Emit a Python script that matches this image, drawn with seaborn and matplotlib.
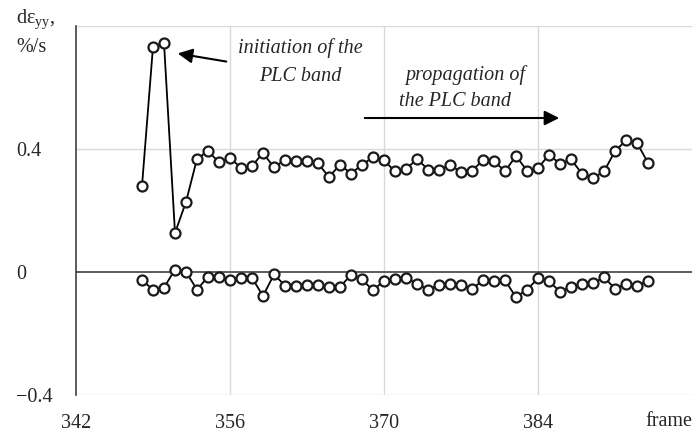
import numpy as np
import pandas as pd
import matplotlib
matplotlib.use("Agg")
import matplotlib.pyplot as plt
import seaborn as sns

frames = list(range(348, 395))
upper = [0.28, 0.733, 0.745, 0.127, 0.228, 0.368, 0.393, 0.357, 0.371, 0.339,
         0.345, 0.387, 0.34, 0.365, 0.362, 0.362, 0.353, 0.309, 0.349, 0.32,
         0.349, 0.373, 0.363, 0.327, 0.334, 0.368, 0.333, 0.333, 0.348, 0.325,
         0.328, 0.365, 0.36, 0.328, 0.377, 0.33, 0.338, 0.381, 0.352, 0.366,
         0.32, 0.305, 0.327, 0.393, 0.428, 0.42, 0.355]
lower = [-0.027, -0.057, -0.051, 0.008, 0.0, -0.057, -0.016, -0.016, -0.027, -0.021,
         -0.019, -0.078, -0.008, -0.044, -0.044, -0.043, -0.043, -0.048, -0.048, -0.01,
         -0.024, -0.06, -0.028, -0.024, -0.019, -0.038, -0.057, -0.043, -0.04, -0.043,
         -0.055, -0.027, -0.03, -0.027, -0.082, -0.057, -0.021, -0.03, -0.064, -0.048,
         -0.038, -0.037, -0.017, -0.054, -0.038, -0.044, -0.028]
xticks = [342, 356, 370, 384]
yticks = [-0.4, 0, 0.4]
ytick_labels = ["\u22120.4", "0", "0.4"]

sns.set_style("white")
plt.rcParams['font.family'] = ['Liberation Serif', 'DejaVu Serif']
plt.rcParams['mathtext.fontset'] = 'custom'
plt.rcParams['mathtext.rm'] = 'Liberation Serif'
plt.rcParams['mathtext.it'] = 'Liberation Serif:italic'

fig = plt.figure(figsize=(6.98, 4.36), dpi=100)
ax = fig.add_axes([76/698, 1-395/436, (692-76)/698, (395-26)/436])

df = pd.DataFrame({"frame": frames + frames,
                   "val": upper + lower,
                   "series": ["upper"]*len(frames) + ["lower"]*len(frames)})

ax.set_xlim(342, 398)
ax.set_ylim(-0.4, 0.8)
for x in [356, 370, 384]:
    ax.axvline(x, color='#d9d9d9', lw=1.0, zorder=0)
for y in [-0.4, 0.4, 0.8]:
    ax.axhline(y, color='#d9d9d9', lw=1.0, zorder=0)
ax.axhline(0, color='#404040', lw=1.2, zorder=1)

sns.lineplot(data=df, x="frame", y="val", units="series", estimator=None,
             color='black', lw=1.3, marker='o', markersize=7.2,
             markerfacecolor='white', markeredgecolor='#1a1a1a',
             markeredgewidth=1.6, ax=ax, zorder=3)

for s in ['top', 'right', 'bottom']:
    ax.spines[s].set_visible(False)
ax.spines['left'].set_color('#404040')
ax.spines['left'].set_linewidth(1.2)

fs = 14.5
ax.set_xticks(xticks)
ax.set_xticklabels([str(t) for t in xticks], fontsize=fs)
ax.set_yticks(yticks)
ax.set_yticklabels(ytick_labels, fontsize=fs)
ax.tick_params(axis='both', length=0)
ax.tick_params(axis='x', pad=14)
for lab in ax.get_yticklabels():
    lab.set_horizontalalignment('left')
ax.tick_params(axis='y', pad=43)
ax.set_xlabel("")
ax.set_ylabel("")

fig.text(692/698, 1-421/436, "frame", ha='right', va='center', fontsize=fs)
fig.text(16/698, 1-19/436, "d\u03b5$_{\\mathrm{yy}}$,", ha='left', va='center', fontsize=fs)
fig.text(16/698, 1-47/436, "%/s", ha='left', va='center', fontsize=fs)

ax.annotate("", xy=(175, 436-53), xytext=(229, 436-62), xycoords='figure pixels',
            textcoords='figure pixels',
            arrowprops=dict(arrowstyle='-|>', mutation_scale=22, lw=1.5, color='black'))
fs2 = 14.5
fig.text(300/698, 1-48/436, "initiation of the", ha='center', va='center',
         fontsize=fs2, style='italic')
fig.text(300/698, 1-76/436, "PLC band", ha='center', va='center',
         fontsize=fs2, style='italic')
fig.text(465/698, 1-75/436, "propagation of", ha='center', va='center',
         fontsize=fs2, style='italic')
fig.text(455/698, 1-101/436, "the PLC band", ha='center', va='center',
         fontsize=fs2, style='italic')
ax.annotate("", xy=(562, 436-118), xytext=(362, 436-118), xycoords='figure pixels',
            textcoords='figure pixels',
            arrowprops=dict(arrowstyle='-|>', mutation_scale=22, lw=1.5, color='black'))

fig.savefig("out.png", dpi=100)
